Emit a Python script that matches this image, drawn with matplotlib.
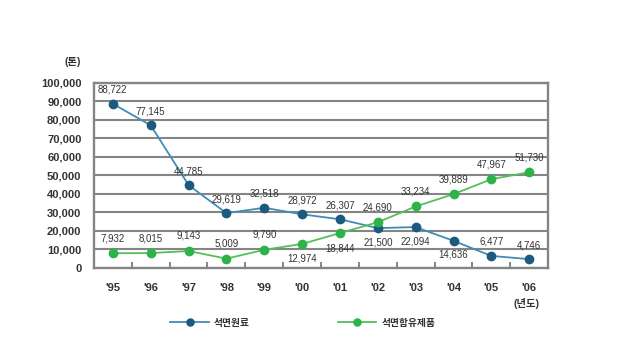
import matplotlib
matplotlib.use("Agg")
import matplotlib.pyplot as plt

plt.rcParams['font.family'] = ['Liberation Sans', 'Noto Sans CJK KR', 'DejaVu Sans']

# Data
years = ["'95", "'96", "'97", "'98", "'99", "'00", "'01", "'02", "'03", "'04", "'05", "'06"]
raw_material = [88722, 77145, 44785, 29619, 32518, 28972, 26307, 21500, 22094, 14636, 6477, 4746]
products = [7932, 8015, 9143, 5009, 9790, 12974, 18844, 24690, 33234, 39889, 47967, 51730]

# label side per point: 1 = above, -1 = below
raw_side = [1, 1, 1, 1, 1, 1, 1, -1, -1, -1, 1, 1]
prod_side = [1, 1, 1, 1, 1, -1, -1, 1, 1, 1, 1, 1]

blue_line = "#3f8db5"
blue_dot = "#1d5a80"
green_line = "#55bf5a"
green_dot = "#2db34a"
grid_col = "#858585"
text_col = "#333333"

fig = plt.figure(figsize=(6.18, 3.64), dpi=100)
ax = fig.add_axes([0.152, 0.264, 0.735, 0.508])

x = range(len(years))
ax.plot(x, raw_material, color=blue_line, lw=1.3, marker="o", ms=6,
        mfc=blue_dot, mec=blue_dot, label="석면원료", zorder=3)
ax.plot(x, products, color=green_line, lw=1.3, marker="o", ms=6,
        mfc=green_dot, mec=green_dot, label="석면함유제품", zorder=3)

for i, v in enumerate(raw_material):
    ax.annotate(f"{v:,}", (i, v), xytext=(0, 14 * raw_side[i]), textcoords="offset pixels",
                ha="center", va="center", fontsize=7, color=text_col)
for i, v in enumerate(products):
    ax.annotate(f"{v:,}", (i, v), xytext=(0, 15 * prod_side[i]), textcoords="offset pixels",
                ha="center", va="center", fontsize=7, color=text_col)

ax.set_xlim(-0.5, len(years) - 0.5)
ax.set_ylim(0, 100000)
ax.set_yticks(range(0, 100001, 10000))
ax.set_yticklabels([f"{v:,}" for v in range(0, 100001, 10000)], fontsize=8,
                   color=text_col, fontweight="bold")
ax.set_xticks(list(x))
ax.set_xticklabels(years, fontsize=8, color=text_col, fontweight="bold")
ax.set_xticks([i + 0.5 for i in range(len(years) - 1)], minor=True)
ax.tick_params(axis="y", length=0, pad=9)
ax.tick_params(axis="x", which="major", length=0, pad=11)
ax.tick_params(axis="x", which="minor", direction="in", length=4, width=1.4, color=grid_col)

ax.yaxis.grid(True, color=grid_col, lw=1.5)
ax.set_axisbelow(True)
for s in ax.spines.values():
    s.set_color(grid_col)
    s.set_linewidth(1.7)

fig.text(0.118, 0.830, "(톤)", fontsize=7.5, color=text_col, ha="center", va="center",
         fontweight="bold")
fig.text(0.852, 0.165, "(년도)", fontsize=7.5, color=text_col, ha="center", va="center",
         fontweight="bold")

fig.legend(loc="center", bbox_to_anchor=(0.49, 0.113), ncol=2, frameon=False,
           fontsize=7, handlelength=4, columnspacing=9, handletextpad=0.5,
           labelcolor=text_col, prop={"weight": "bold", "size": 7}, markerscale=0.85)

fig.savefig("out.png", dpi=100)
